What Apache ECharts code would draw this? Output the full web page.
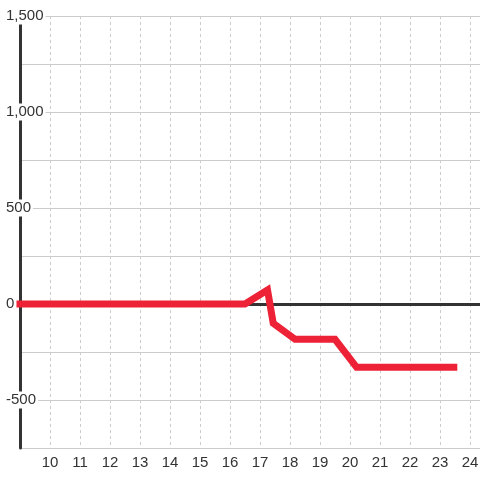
<!DOCTYPE html>
<html>
<head>
<meta charset="utf-8">
<script src="https://cdn.jsdelivr.net/npm/echarts@6/dist/echarts.min.js"></script>
<style>
html,body{margin:0;padding:0;background:#fff;}
#c{width:480px;height:480px;}
</style>
</head>
<body>
<div id="c"></div>
<script>
// Data
var xValues = [9, 16.5, 17.25, 17.44, 18.17, 19.5, 20.22, 23.46];
var yValues = [0, 0, 73, -100, -184, -184, -330, -330];
var xTickLabels = [10, 11, 12, 13, 14, 15, 16, 17, 18, 19, 20, 21, 22, 23, 24];
var yTickLabels = [-500, 0, 500, 1000, 1500];

var xMin = 9, xMax = 24.333, yMin = -750, yMax = 1500;

var seriesData = xValues.map(function (x, i) { return [x, yValues[i]]; });

var chart = echarts.init(document.getElementById('c'), null, {renderer: 'canvas'});
chart.setOption({
  backgroundColor: '#ffffff',
  animation: false,
  grid: {left: 20, right: 0, top: 16, bottom: 32, containLabel: false, outerBoundsMode: 'none'},
  xAxis: [{
    type: 'value', min: xMin, max: xMax, interval: 1,
    axisLine: {show: false, onZero: false},
    axisTick: {show: false},
    splitLine: {show: true, lineStyle: {color: '#cccccc', type: [3, 3], width: 1}},
    axisLabel: {
      margin: 7, color: '#333', fontSize: 15, fontFamily: 'Liberation Sans, Arial, sans-serif',
      showMinLabel: false, showMaxLabel: false,
      formatter: function (v) { return xTickLabels.indexOf(v) >= 0 ? String(v) : ''; }
    }
  }, {
    type: 'value', min: xMin, max: xMax, interval: 1, position: 'bottom',
    axisLine: {show: true, onZero: true, lineStyle: {color: '#333', width: 3}},
    axisTick: {show: false}, axisLabel: {show: false}, splitLine: {show: false}
  }],
  yAxis: {
    type: 'value', min: yMin, max: yMax, interval: 250,
    axisLine: {show: true, onZero: false, lineStyle: {color: '#333', width: 3}},
    axisTick: {show: false},
    splitLine: {show: true, lineStyle: {color: '#cccccc', width: 1}},
    axisLabel: {
      align: 'left', margin: 16, color: '#333', fontSize: 15,
      fontFamily: 'Liberation Sans, Arial, sans-serif',
      backgroundColor: '#ffffff', padding: [2, 2, 0, 2], lineHeight: 15,
      formatter: function (v) {
        return yTickLabels.indexOf(v) >= 0 ? v.toLocaleString('en-US') : '';
      }
    }
  },
  series: [{
    type: 'line', data: seriesData, xAxisIndex: 0, symbol: 'none', clip: false, z: 5,
    lineStyle: {color: '#ee2236', width: 7, cap: 'square', join: 'miter'}
  }]
});
</script>
</body>
</html>
